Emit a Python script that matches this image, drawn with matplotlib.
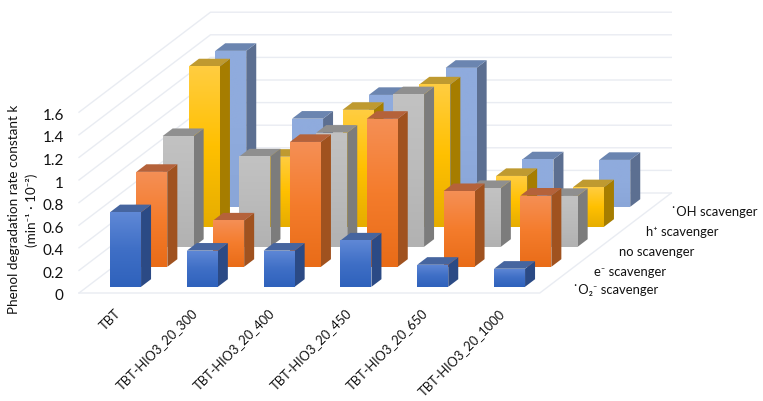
import numpy as np
import matplotlib
matplotlib.use("Agg")
import matplotlib.pyplot as plt
from matplotlib.colors import LinearSegmentedColormap
from matplotlib.patches import Polygon
from matplotlib.transforms import ScaledTranslation

plt.rcParams['font.family'] = ['Lato', 'DejaVu Sans']

categories = ["TBT", "TBT-HIO3_20_300", "TBT-HIO3_20_400", "TBT-HIO3_20_450",
              "TBT-HIO3_20_650", "TBT-HIO3_20_1000"]
series_names = ["˙O₂⁻ scavenger", "e⁻ scavenger", "no scavenger", "h⁺ scavenger", "˙OH scavenger"]

o2_scav = [0.66, 0.32, 0.32, 0.41, 0.195, 0.16]
e_scav = [0.84, 0.41, 1.105, 1.31, 0.67, 0.63]
no_scav = [0.98, 0.80, 1.01, 1.35, 0.52, 0.45]
h_scav = [1.42, 0.62, 1.035, 1.26, 0.45, 0.35]
oh_scav = [1.38, 0.78, 0.99, 1.23, 0.42, 0.415]
series = [o2_scav, e_scav, no_scav, h_scav, oh_scav]

# front gradient (top, mid, bottom), side face, top face
front_cols = [["#5F88D6", "#3F6FC6", "#2F62BC"],
              ["#F58F55", "#F47C2C", "#E96C18"],
              ["#C2C2C2", "#BBBBBB", "#B2B2B2"],
              ["#FFCD40", "#FFC000", "#E6AD00"],
              ["#8FABDD", "#8FABDD", "#8AA6D8"]]
side_cols = ["#2B4A85", "#A0521F", "#7C7C7C", "#A67D00", "#5C6F91"]
top_cols = ["#46659F", "#B5623A", "#8F8F8F", "#BF9A30", "#6B85B0"]
grid_col = "#E9ECF2"

# oblique projection: one row back moves this much in data units
skew_x = 26.3 / 76.8
skew_y = 20 / 113
bar_w = 31 / 76.8
bar_d = 0.38
row_gap = 0.31
n_rows = len(series)

W, H = 763, 401
fig = plt.figure(figsize=(W / 100, H / 100), dpi=100)
ax = fig.add_axes([79 / W, (H - 293) / H, 460.8 / W, 180.8 / H])
ax.set_xlim(0, 6)
ax.set_ylim(0, 1.6)
ax.set_autoscale_on(False)
for s in ax.spines.values():
    s.set_visible(False)
ax.patch.set_alpha(0)


def proj(x, d, v):
    return (x + d * skew_x, v + d * skew_y)


# walls and floor
yticks = [0, 0.2, 0.4, 0.6, 0.8, 1, 1.2, 1.4, 1.6]
for v in yticks:
    p0 = proj(0, 0, v)
    p1 = proj(0, n_rows, v)
    p2 = proj(6, n_rows, v)
    ax.plot([p0[0], p1[0], p2[0]], [p0[1], p1[1], p2[1]], color=grid_col, lw=1, clip_on=False, zorder=1)
p0 = proj(0, 0, 0)
p1 = proj(6, 0, 0)
p2 = proj(6, n_rows, 0)
ax.plot([p0[0], p1[0], p2[0]], [p0[1], p1[1], p2[1]], color=grid_col, lw=1, clip_on=False, zorder=1)

# bars, back row first
for r in range(n_rows - 1, -1, -1):
    z = 10 + (n_rows - r) * 5
    cmap = LinearSegmentedColormap.from_list("f%d" % r, front_cols[r])
    grad = np.linspace(0, 1, 64).reshape(-1, 1)
    for c, val in enumerate(series[r]):
        d0 = r + row_gap
        d1 = d0 + bar_d
        x0 = c + (1 - bar_w) / 2
        x1 = x0 + bar_w
        fx0, base = proj(x0, d0, 0)
        fx1, top = proj(x1, d0, val)
        rect = ax.bar(fx0, val, width=bar_w, bottom=base, align='edge', color=front_cols[r][1],
                      zorder=z, clip_on=False)[0]
        im = ax.imshow(grad, cmap=cmap, extent=(fx0, fx1, base, top), origin='upper',
                       aspect='auto', zorder=z + 0.1, interpolation='bilinear')
        im.set_clip_path(rect)
        side = [proj(x1, d0, 0), proj(x1, d1, 0), proj(x1, d1, val), proj(x1, d0, val)]
        roof = [proj(x0, d0, val), proj(x1, d0, val), proj(x1, d1, val), proj(x0, d1, val)]
        ax.add_patch(Polygon(side, closed=True, fc=side_cols[r], ec='none', zorder=z, clip_on=False))
        ax.add_patch(Polygon(roof, closed=True, fc=top_cols[r], ec='none', zorder=z, clip_on=False))

ax.set_xlim(0, 6)
ax.set_ylim(0, 1.6)

ax.set_yticks(yticks)
ax.set_yticklabels(["0", "0.2", "0.4", "0.6", "0.8", "1", "1.2", "1.4", "1.6"], fontsize=11, color="#111111")
ax.tick_params(axis='y', length=0, pad=11)
ax.set_xticks(np.arange(6) + 0.5)
ax.set_xticklabels(categories, rotation=45, ha='right', va='top', rotation_mode='anchor', fontsize=9.3, color="#111111")
ax.tick_params(axis='x', length=0, pad=10)

# small nudges, Lato sits a bit high
for lab in ax.get_yticklabels():
    lab.set_transform(lab.get_transform() + ScaledTranslation(0, -2 / 100, fig.dpi_scale_trans))
for lab in ax.get_xticklabels():
    lab.set_transform(lab.get_transform() + ScaledTranslation(-3 / 100, 0, fig.dpi_scale_trans))

ax.set_ylabel("Phenol degradation rate constant k\n(min⁻¹ · 10⁻²)", fontsize=9.7, color="#111111", linespacing=1.5)
ax.yaxis.set_label_coords(-0.09, 0.46)

# series names beside the floor edge
offsets = [(20, -7), (15, -9), (13, -9), (14, -9), (13, -9)]
for r, name in enumerate(series_names):
    px, py = proj(6, r + 0.5, 0)
    ax.annotate(name, (px, py), xytext=offsets[r], textcoords='offset pixels', ha='left', va='center',
                fontsize=9.4, color="#111111", annotation_clip=False)

fig.savefig("out.png", dpi=100)
